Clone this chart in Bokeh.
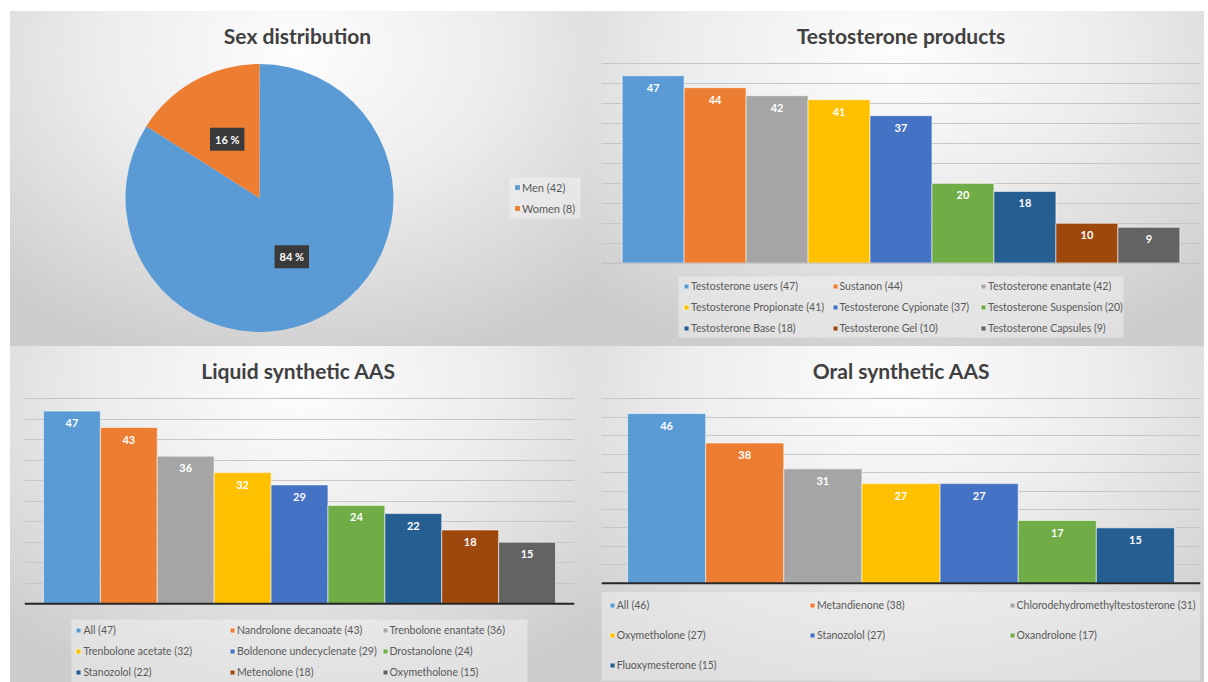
import math

from bokeh.core.properties import value
from bokeh.embed import file_html
from bokeh.layouts import column, row
from bokeh.models import (BoxAnnotation, ColumnDataSource, Grid, Label, Legend,
                          LegendItem, Range1d, SingleIntervalTicker, Spacer, Span)
from bokeh.plotting import figure
from bokeh.resources import INLINE

# ---------------------------------------------------------------- data
sex_labels = ["Men", "Women"]
sex_counts = [42, 8]

testo_names = ["Testosterone users", "Sustanon", "Testosterone enantate",
               "Testosterone Propionate", "Testosterone Cypionate",
               "Testosterone Suspension", "Testosterone Base", "Testosterone Gel",
               "Testosterone Capsules"]
testo_counts = [47, 44, 42, 41, 37, 20, 18, 10, 9]

liquid_names = ["All", "Nandrolone decanoate", "Trenbolone enantate",
                "Trenbolone acetate", "Boldenone undecyclenate", "Drostanolone",
                "Stanozolol", "Metenolone", "Oxymetholone"]
liquid_counts = [47, 43, 36, 32, 29, 24, 22, 18, 15]

oral_names = ["All", "Metandienone", "Chlorodehydromethyltestosterone",
              "Oxymetholone", "Stanozolol", "Oxandrolone", "Fluoxymesterone"]
oral_counts = [46, 38, 31, 27, 27, 17, 15]

axis_max = 50
grid_step = 5

# ---------------------------------------------------------------- style
FONT = "Lato"
TITLE_COLOR = "#404040"
LEGEND_COLOR = "#595959"
PALETTE = ["#5B9BD5", "#ED7D31", "#A5A5A5", "#FFC000", "#4472C4",
           "#70AD47", "#255E91", "#9E480E", "#636363"]
PANEL_BG = ("radial-gradient(ellipse 75% 95% at 50% 12%, "
            "#fdfdfd 0%, #ededed 45%, #cdcdcd 100%)")
BAR_GAP = 1 / 3          # outer padding on each side, in bar widths
LEG_ROW_H = 15


def base_figure(w, h, x_range, y_range, mbl=0, mbr=0):
    p = figure(width=w, height=h, x_range=x_range, y_range=y_range,
               x_axis_type=None, y_axis_type=None, toolbar_location=None,
               output_backend="svg", min_border_left=mbl, min_border_right=mbr,
               min_border_top=0, min_border_bottom=0,
               background_fill_color=None, border_fill_color=None,
               outline_line_color=None)
    p.styles = {"background": PANEL_BG}
    return p


def add_title(p, text, x, y):
    p.add_layout(Label(x=x, y=y, x_units="screen", y_units="screen", text=text,
                       text_font=FONT, text_font_style="bold", text_font_size="21px",
                       text_color=TITLE_COLOR, text_align="center",
                       text_baseline="middle"))


def add_legend_box(p, fl, fb, x0, x1, y0, y1):
    # fl / fb: frame left and frame bottom in page pixels
    p.add_layout(BoxAnnotation(left=x0 - fl, right=x1 - fl, bottom=fb - y1, top=fb - y0,
                               left_units="screen", right_units="screen",
                               bottom_units="screen", top_units="screen",
                               fill_color="#f7f7f7", fill_alpha=0.45,
                               line_alpha=0))


def add_legend_columns(p, renderer, labels, col_x, row1_y, pitch, fl, fb, ncols,
                       font_size="10.5px"):
    spacing = int(round(pitch - LEG_ROW_H))
    n = len(labels)
    for c in range(ncols):
        idx = list(range(c, n, ncols))
        if not idx:
            continue
        items = [LegendItem(label=labels[i], renderers=[renderer], index=i) for i in idx]
        height = len(idx) * LEG_ROW_H + (len(idx) - 1) * spacing
        top = row1_y - LEG_ROW_H / 2
        leg = Legend(items=items, location=(col_x[c] - fl, fb - (top + height)),
                     orientation="vertical", padding=0, margin=0, spacing=spacing,
                     glyph_width=6, glyph_height=6, label_standoff=2,
                     label_height=LEG_ROW_H, label_text_font=FONT,
                     label_text_font_size=font_size, label_text_color=LEGEND_COLOR,
                     background_fill_alpha=0, border_line_alpha=0)
        p.add_layout(leg, "center")


def bar_panel(names, counts, title, w, h, panel_left, panel_top, frame_left, frame_right,
              base_from_top, px_per_unit, title_xy, leg_cols, leg_row1, leg_pitch,
              leg_box, base_color, base_width):
    n = len(counts)
    fb = panel_top + h
    x_range = Range1d(-0.5 - BAR_GAP, n - 0.5 + BAR_GAP)
    y_range = Range1d(-(h - base_from_top) / px_per_unit, base_from_top / px_per_unit)
    p = base_figure(w, h, x_range, y_range,
                    mbl=frame_left - panel_left, mbr=panel_left + w - frame_right)

    p.add_layout(Grid(dimension=1, ticker=SingleIntervalTicker(interval=grid_step),
                      bounds=(0, axis_max), grid_line_color="#c6c6c6",
                      grid_line_width=1))

    src = ColumnDataSource(dict(x=list(range(n)), top=counts, color=PALETTE[:n],
                                txt=[str(c) for c in counts]))
    bars = p.vbar(x="x", top="top", bottom=0, width=1.0, fill_color="color",
                  line_color="white", line_alpha=0.55, line_width=1, source=src)
    p.text(x="x", y="top", text="txt", y_offset=12, text_color="white",
           text_font=value(FONT), text_font_style="bold", text_font_size="11px",
           text_align="center", text_baseline="middle", source=src)

    p.add_layout(Span(location=0, dimension="width", line_color=base_color,
                      line_width=base_width))

    add_title(p, title, title_xy[0] - frame_left, fb - title_xy[1])
    add_legend_box(p, frame_left, fb, *leg_box)
    labels = [f"{nm} ({c})" for nm, c in zip(names, counts)]
    add_legend_columns(p, bars, labels, leg_cols, leg_row1, leg_pitch,
                       frame_left, fb, ncols=3)
    return p


# ---------------------------------------------------------------- pie panel
PIE_W, PIE_H = 578, 335
PIE_LEFT, PIE_TOP = 10, 11
PIE_CX, PIE_CY, PIE_R = 249, 186.5, 134      # pixels inside the panel

pie = base_figure(PIE_W, PIE_H,
                  Range1d(-PIE_CX / PIE_R, (PIE_W - PIE_CX) / PIE_R),
                  Range1d(-(PIE_H - PIE_CY) / PIE_R, PIE_CY / PIE_R))

total = sum(sex_counts)
fracs = [c / total for c in sex_counts]
starts, ends, cum = [], [], 0.0
for f in fracs:
    ends.append(math.pi / 2 - 2 * math.pi * cum)
    starts.append(math.pi / 2 - 2 * math.pi * (cum + f))
    cum += f
pie_src = ColumnDataSource(dict(start=starts, end=ends, color=PALETTE[:2]))
wedges = pie.wedge(x=0, y=0, radius=1, start_angle="start", end_angle="end",
                   direction="anticlock", fill_color="color", line_color=None,
                   source=pie_src)

for s, e, f in zip(starts, ends, fracs):
    mid = (s + e) / 2
    pie.add_layout(Label(x=0.5 * math.cos(mid), y=0.5 * math.sin(mid),
                         text=f"{round(f * 100)} %", text_font=FONT,
                         text_font_style="bold", text_font_size="11px",
                         text_color="white", text_align="center",
                         text_baseline="middle", background_fill_color="#3a3a3a",
                         padding=5))

pie_fb = PIE_TOP + PIE_H
add_title(pie, "Sex distribution", 297 - PIE_LEFT, pie_fb - 35)
add_legend_box(pie, PIE_LEFT, pie_fb, 509, 580, 177, 218)
add_legend_columns(pie, wedges, [f"{l} ({c})" for l, c in zip(sex_labels, sex_counts)],
                   [514], 187, 21, PIE_LEFT, pie_fb, ncols=1, font_size="11px")

# ---------------------------------------------------------------- bar panels
testo = bar_panel(testo_names, testo_counts, "Testosterone products",
                  616, 335, 588, 11, 601, 1200, 251.7, 3.988, (900.5, 35),
                  [683, 831.5, 980], 286, 21, (678, 1123, 276, 337),
                  "#c0c0c0", 1)

liquid = bar_panel(liquid_names, liquid_counts, "Liquid synthetic AAS",
                   578, 336, 10, 346, 24, 574, 257.3, 4.1, (298, 370),
                   [75.4, 229, 381.5], 630, 21, (70.8, 527, 619, 682),
                   "#262626", 2)

oral = bar_panel(oral_names, oral_counts, "Oral synthetic AAS",
                 616, 336, 588, 346, 601, 1200, 236.7, 3.688, (901, 370),
                 [608.7, 809, 1008.6], 605, 30, (601, 1200, 591.7, 680),
                 "#262626", 2)

layout = row(Spacer(width=10, height=682),
             column(Spacer(width=1194, height=11), row(pie, testo), row(liquid, oral)))

open("out.html", "w").write(file_html(layout, INLINE))
